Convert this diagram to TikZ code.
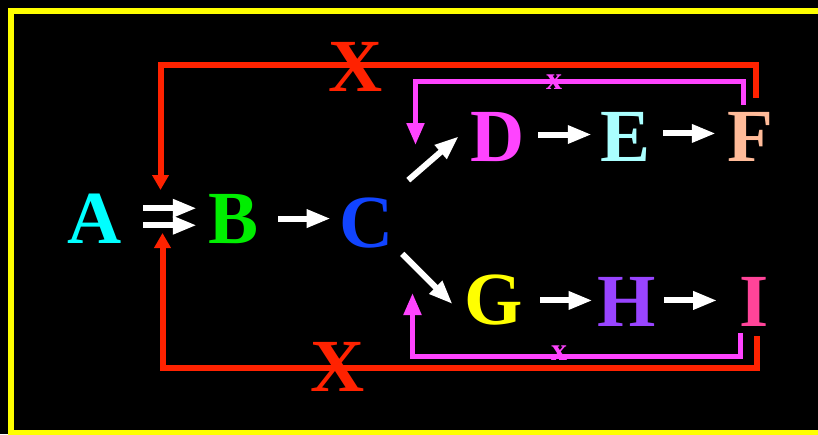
\documentclass[tikz,border=0pt]{standalone}
\usepackage{fontspec}
\setmainfont{Liberation Serif}
\usetikzlibrary{arrows.meta}
\definecolor{cA}{HTML}{00FFFF}
\definecolor{cB}{HTML}{00EE00}
\definecolor{cC}{HTML}{1144FF}
\definecolor{cD}{HTML}{FF44FF}
\definecolor{cE}{HTML}{AAFFFF}
\definecolor{cF}{HTML}{FFBB99}
\definecolor{cG}{HTML}{FFFF00}
\definecolor{cH}{HTML}{9944FF}
\definecolor{cI}{HTML}{FF4499}
\definecolor{cRed}{HTML}{FF2200}
\definecolor{cMag}{HTML}{FF44FF}
\definecolor{cYel}{HTML}{FFFF00}
\begin{document}
\begin{tikzpicture}[x=1pt,y=-1pt,
  letter/.style={anchor=base, inner sep=0pt, font=\fontsize{75}{75}\selectfont\bfseries},
  smallx/.style={anchor=base, inner sep=0pt, text=cMag, font=\fontsize{32}{32}\selectfont\bfseries},
  warrow/.style={draw=white, line width=6pt, -{Triangle[length=24pt,width=17pt]}},
  redline/.style={draw=cRed, line width=6pt, -{Triangle[length=15pt,width=16pt]}},
  magline/.style={draw=cMag, line width=5pt, -{Triangle[length=22pt,width=17pt]}},
  ]
\fill[black] (0,0) rectangle (818,434);
\useasboundingbox (0,0) rectangle (818,434);
\clip (0,0) rectangle (818,434);
\draw[cYel, line width=6pt] (11,11) rectangle (840,433);

\node[letter, text=cA] (A) at (95,243) {A};
\node[letter, text=cB] (B) at (234,243) {B};
\node[letter, text=cC] (C) at (367,247) {C};
\node[letter, text=cD] (D) at (498,161) {D};
\node[letter, text=cE] (E) at (626,161) {E};
\node[letter, text=cF] (F) at (750,161) {F};
\node[letter, text=cG] (G) at (494,324) {G};
\node[letter, text=cH] (H) at (627,326) {H};
\node[letter, text=cI] (I) at (754,326) {I};

\coordinate (topin) at (160.5,190);
\coordinate (botin) at (162.5,233);
\coordinate (magtopin) at (415.5,145);
\coordinate (magbotin) at (412.5,293);

% red feedback lines
\draw[redline] ([xshift=5.5pt,yshift=14pt]F.north) |- (160.5,65) -- (topin);
\draw[redline] ([xshift=3pt,yshift=-10pt]I.south) |- (162.5,368) -- (botin);
% magenta feedback lines
\draw[magline] ([xshift=-7pt,yshift=7pt]F.north) |- (415.5,81.5) -- (magtopin);
\draw[magline] ([xshift=-14pt,yshift=-7pt]I.south) |- (412.5,356) -- (magbotin);

% labels
\node[letter, text=cRed] (X1) at (356,91) {X};
\node[letter, text=cRed] (X2) at (338,391.5) {X};
\node[smallx] (x1) at (554,89) {x};
\node[smallx] (x2) at (559,360) {x};

% white arrows
\draw[warrow, shorten <=21pt, shorten >=12pt] ([yshift=10pt]A.east) -- ([yshift=10pt]A.east -| B.west);
\draw[warrow, shorten <=21pt, shorten >=12pt] ([yshift=-7pt]A.east) -- ([yshift=-7pt]A.east -| B.west);
\draw[warrow, shorten <=19pt, shorten >=9pt] (B.east) -- (B.east -| C.west);
\draw[warrow] ([xshift=14pt,yshift=17pt]C.north east) -- ([xshift=-12pt,yshift=25pt]D.south west);
\draw[warrow] ([xshift=8pt,yshift=-6pt]C.south east) -- ([xshift=-12pt,yshift=-30pt]G.north west);
\draw[warrow, shorten <=13pt, shorten >=9pt] ([yshift=2pt]D.east) -- ([yshift=2pt]D.east -| E.west);
\draw[warrow, shorten <=12pt, shorten >=11pt] ([yshift=3pt]E.east) -- ([yshift=3pt]E.east -| F.west);
\draw[warrow, shorten <=17pt, shorten >=5pt] ([yshift=1pt]H.west -| G.east) -- ([yshift=1pt]H.west);
\draw[warrow, shorten <=8pt, shorten >=22pt] ([yshift=1pt]H.east) -- ([yshift=1pt]H.east -| I.west);
\end{tikzpicture}
\end{document}
